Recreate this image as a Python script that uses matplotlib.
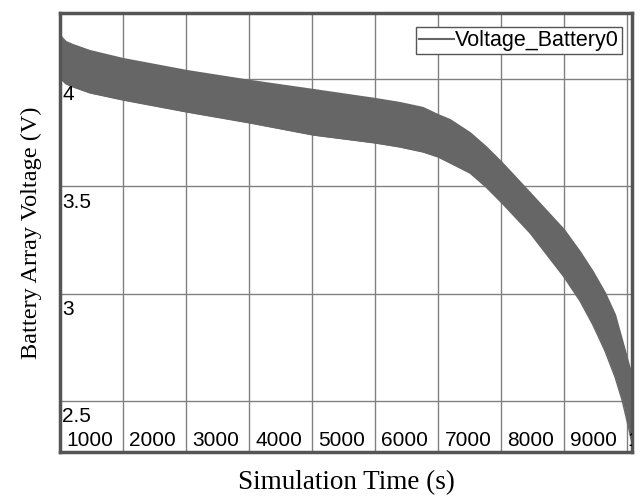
import matplotlib
matplotlib.use('Agg')
import matplotlib.pyplot as plt

# envelope of the (fast oscillating) battery voltage
time_s = [1000, 1032, 1095, 1206, 1476, 2000, 3016, 4016, 5016, 6000, 6397, 6762,
          7000, 7190, 7508, 7762, 8016, 8460, 9000, 9254, 9460, 9651, 9810, 9921,
          10016, 10079]
v_high = [4.205, 4.191, 4.172, 4.158, 4.130, 4.093, 4.037, 3.991, 3.949, 3.907, 3.888, 3.865,
          3.832, 3.809, 3.748, 3.683, 3.609, 3.469, 3.297, 3.194, 3.101, 3.003, 2.901, 2.784,
          2.682, 2.617]
v_low = [4.009, 3.995, 3.977, 3.963, 3.935, 3.902, 3.846, 3.795, 3.739, 3.702, 3.683, 3.660,
         3.637, 3.609, 3.562, 3.497, 3.422, 3.283, 3.078, 2.966, 2.854, 2.733, 2.612, 2.505,
         2.388, 2.304]

x_ticks = [1000, 2000, 3000, 4000, 5000, 6000, 7000, 8000, 9000, 10000]
x_tick_labels = ['1000', '2000', '3000', '4000', '5000', '6000', '7000', '8000', '9000', '10000']
y_ticks = [2.5, 3.0, 3.5, 4.0]
y_tick_labels = ['2.5', '3', '3.5', '4']

band = '#666666'

fig = plt.figure(figsize=(6.4, 5.0), dpi=100)
ax = fig.add_axes([60 / 640, 48 / 500, 572 / 640, 439 / 500])

ax.fill_between(time_s, v_low, v_high, color=band, lw=0)
ax.plot(time_s, v_high, color=band, lw=1.5, label='Voltage_Battery0')
ax.plot(time_s, v_low, color=band, lw=1)

ax.set_xlim(1000, 10079)
ax.set_ylim(2.263, 4.307)
ax.set_xticks(x_ticks)
ax.set_yticks(y_ticks)
ax.tick_params(length=0, labelbottom=False, labelleft=False)
ax.grid(color='#808080', lw=1)
ax.set_axisbelow(True)

for s in ax.spines.values():
    s.set_color('#555555')
    s.set_linewidth(2.5)

# tick labels sit inside the plot area
for t, lab in zip(x_ticks, x_tick_labels):
    ax.annotate(lab, xy=(t, 0), xycoords=('data', 'axes fraction'),
                xytext=(21.5, 4.3), textcoords='offset points',
                ha='center', va='baseline', fontsize=15,
                family='Liberation Sans', clip_on=True)
for v, lab in zip(y_ticks, y_tick_labels):
    ax.annotate(lab, xy=(0, v), xycoords=('axes fraction', 'data'),
                xytext=(1.5, -15.3), textcoords='offset points',
                ha='left', va='baseline', fontsize=15,
                family='Liberation Sans', clip_on=True)

ax.set_xlabel('Simulation Time (s)', family='Liberation Serif', fontsize=19.5, labelpad=13)
ax.set_ylabel('Battery Array Voltage (V)', family='Liberation Serif', fontsize=17.5, labelpad=13)

leg = ax.legend(loc='upper right', bbox_to_anchor=(1 - 10 / 572, 1 - 14 / 439),
                borderaxespad=0, fancybox=False, framealpha=1, edgecolor='#555555',
                prop={'family': 'Liberation Sans', 'size': 15.5},
                handlelength=1.6, handletextpad=0.05, borderpad=0.15)
leg.get_frame().set_linewidth(1)

fig.savefig('out.png', dpi=100)
